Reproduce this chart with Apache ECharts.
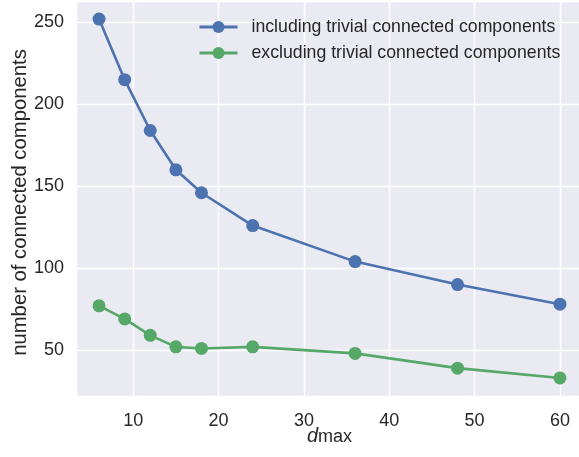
<!DOCTYPE html>
<html>
<head>
<meta charset="utf-8">
<script src="https://cdn.jsdelivr.net/npm/echarts@6/dist/echarts.min.js"></script>
<style>
  html, body { margin: 0; padding: 0; background: #fff; }
  #chart { width: 579px; height: 457px; }
</style>
</head>
<body>
<div id="chart"></div>
<script>
const dMax = [6, 9, 12, 15, 18, 24, 36, 48, 60]
const includingTrivial = [252, 215, 184, 160, 146, 126, 104, 90, 78]
const excludingTrivial = [77, 69, 59, 52, 51, 52, 48, 39, 33]
const seriesNames = ['including trivial connected components', 'excluding trivial connected components']

const textColor = '#262626'
const fontFamily = '"Liberation Sans", Arial, sans-serif'

const chart = echarts.init(document.getElementById('chart'))

const makeSeries = (name, values, color) => ({
  name,
  type: 'line',
  data: dMax.map((x, i) => [x, values[i]]),
  symbol: 'circle',
  symbolSize: 13,
  itemStyle: { color },
  lineStyle: { color, width: 2.6 },
  emphasis: { disabled: true },
  z: 3
})

chart.setOption({
  animation: false,
  textStyle: { fontFamily },
  grid: {
    left: 76, top: 1, width: 507, height: 395,
    outerBoundsMode: 'none',
    containLabel: false,
    show: true, backgroundColor: '#EAEAF2', borderWidth: 0
  },
  legend: {
    left: 193,
    top: 13,
    orient: 'vertical',
    itemWidth: 38,
    itemHeight: 15,
    itemGap: 8,
    lineStyle: { width: 3 },
    textStyle: { color: textColor, fontSize: 17.7, fontFamily, lineHeight: 18, padding: [0, 0, 0, 9] },
    data: seriesNames
  },
  xAxis: {
    type: 'value',
    min: 3.3,
    max: 62.7,
    splitNumber: 5,
    axisLine: { show: false },
    axisTick: { show: false },
    splitLine: { lineStyle: { color: '#fff', width: 1.4 } },
    axisLabel: { color: textColor, fontSize: 18, margin: 16, showMinLabel: false, showMaxLabel: false },
    name: '{d|d}{m|max}',
    nameLocation: 'middle',
    nameMoveOverlap: false,
    nameGap: 29,
    nameTextStyle: {
      rich: {
        d: { fontSize: 20, fontStyle: 'italic', color: textColor, fontFamily, verticalAlign: 'bottom' },
        m: { fontSize: 18, color: textColor, fontFamily, verticalAlign: 'bottom', padding: [3, 0, 0, 0] }
      }
    }
  },
  yAxis: {
    type: 'value',
    min: 22,
    max: 263,
    splitNumber: 5,
    axisLine: { show: false },
    axisTick: { show: false },
    splitLine: { lineStyle: { color: '#fff', width: 1.4 } },
    axisLabel: { color: textColor, fontSize: 18, margin: 12, showMinLabel: false, showMaxLabel: false },
    name: 'number of connected components',
    nameLocation: 'middle',
    nameMoveOverlap: false,
    nameRotate: 90,
    nameGap: 46,
    nameTextStyle: { color: textColor, fontSize: 20.3, fontFamily, padding: [0, 8, 0, 0] }
  },
  series: [
    makeSeries(seriesNames[0], includingTrivial, '#4C72B0'),
    makeSeries(seriesNames[1], excludingTrivial, '#55A868')
  ]
})

window.addEventListener('resize', () => chart.resize())
</script>
</body>
</html>
